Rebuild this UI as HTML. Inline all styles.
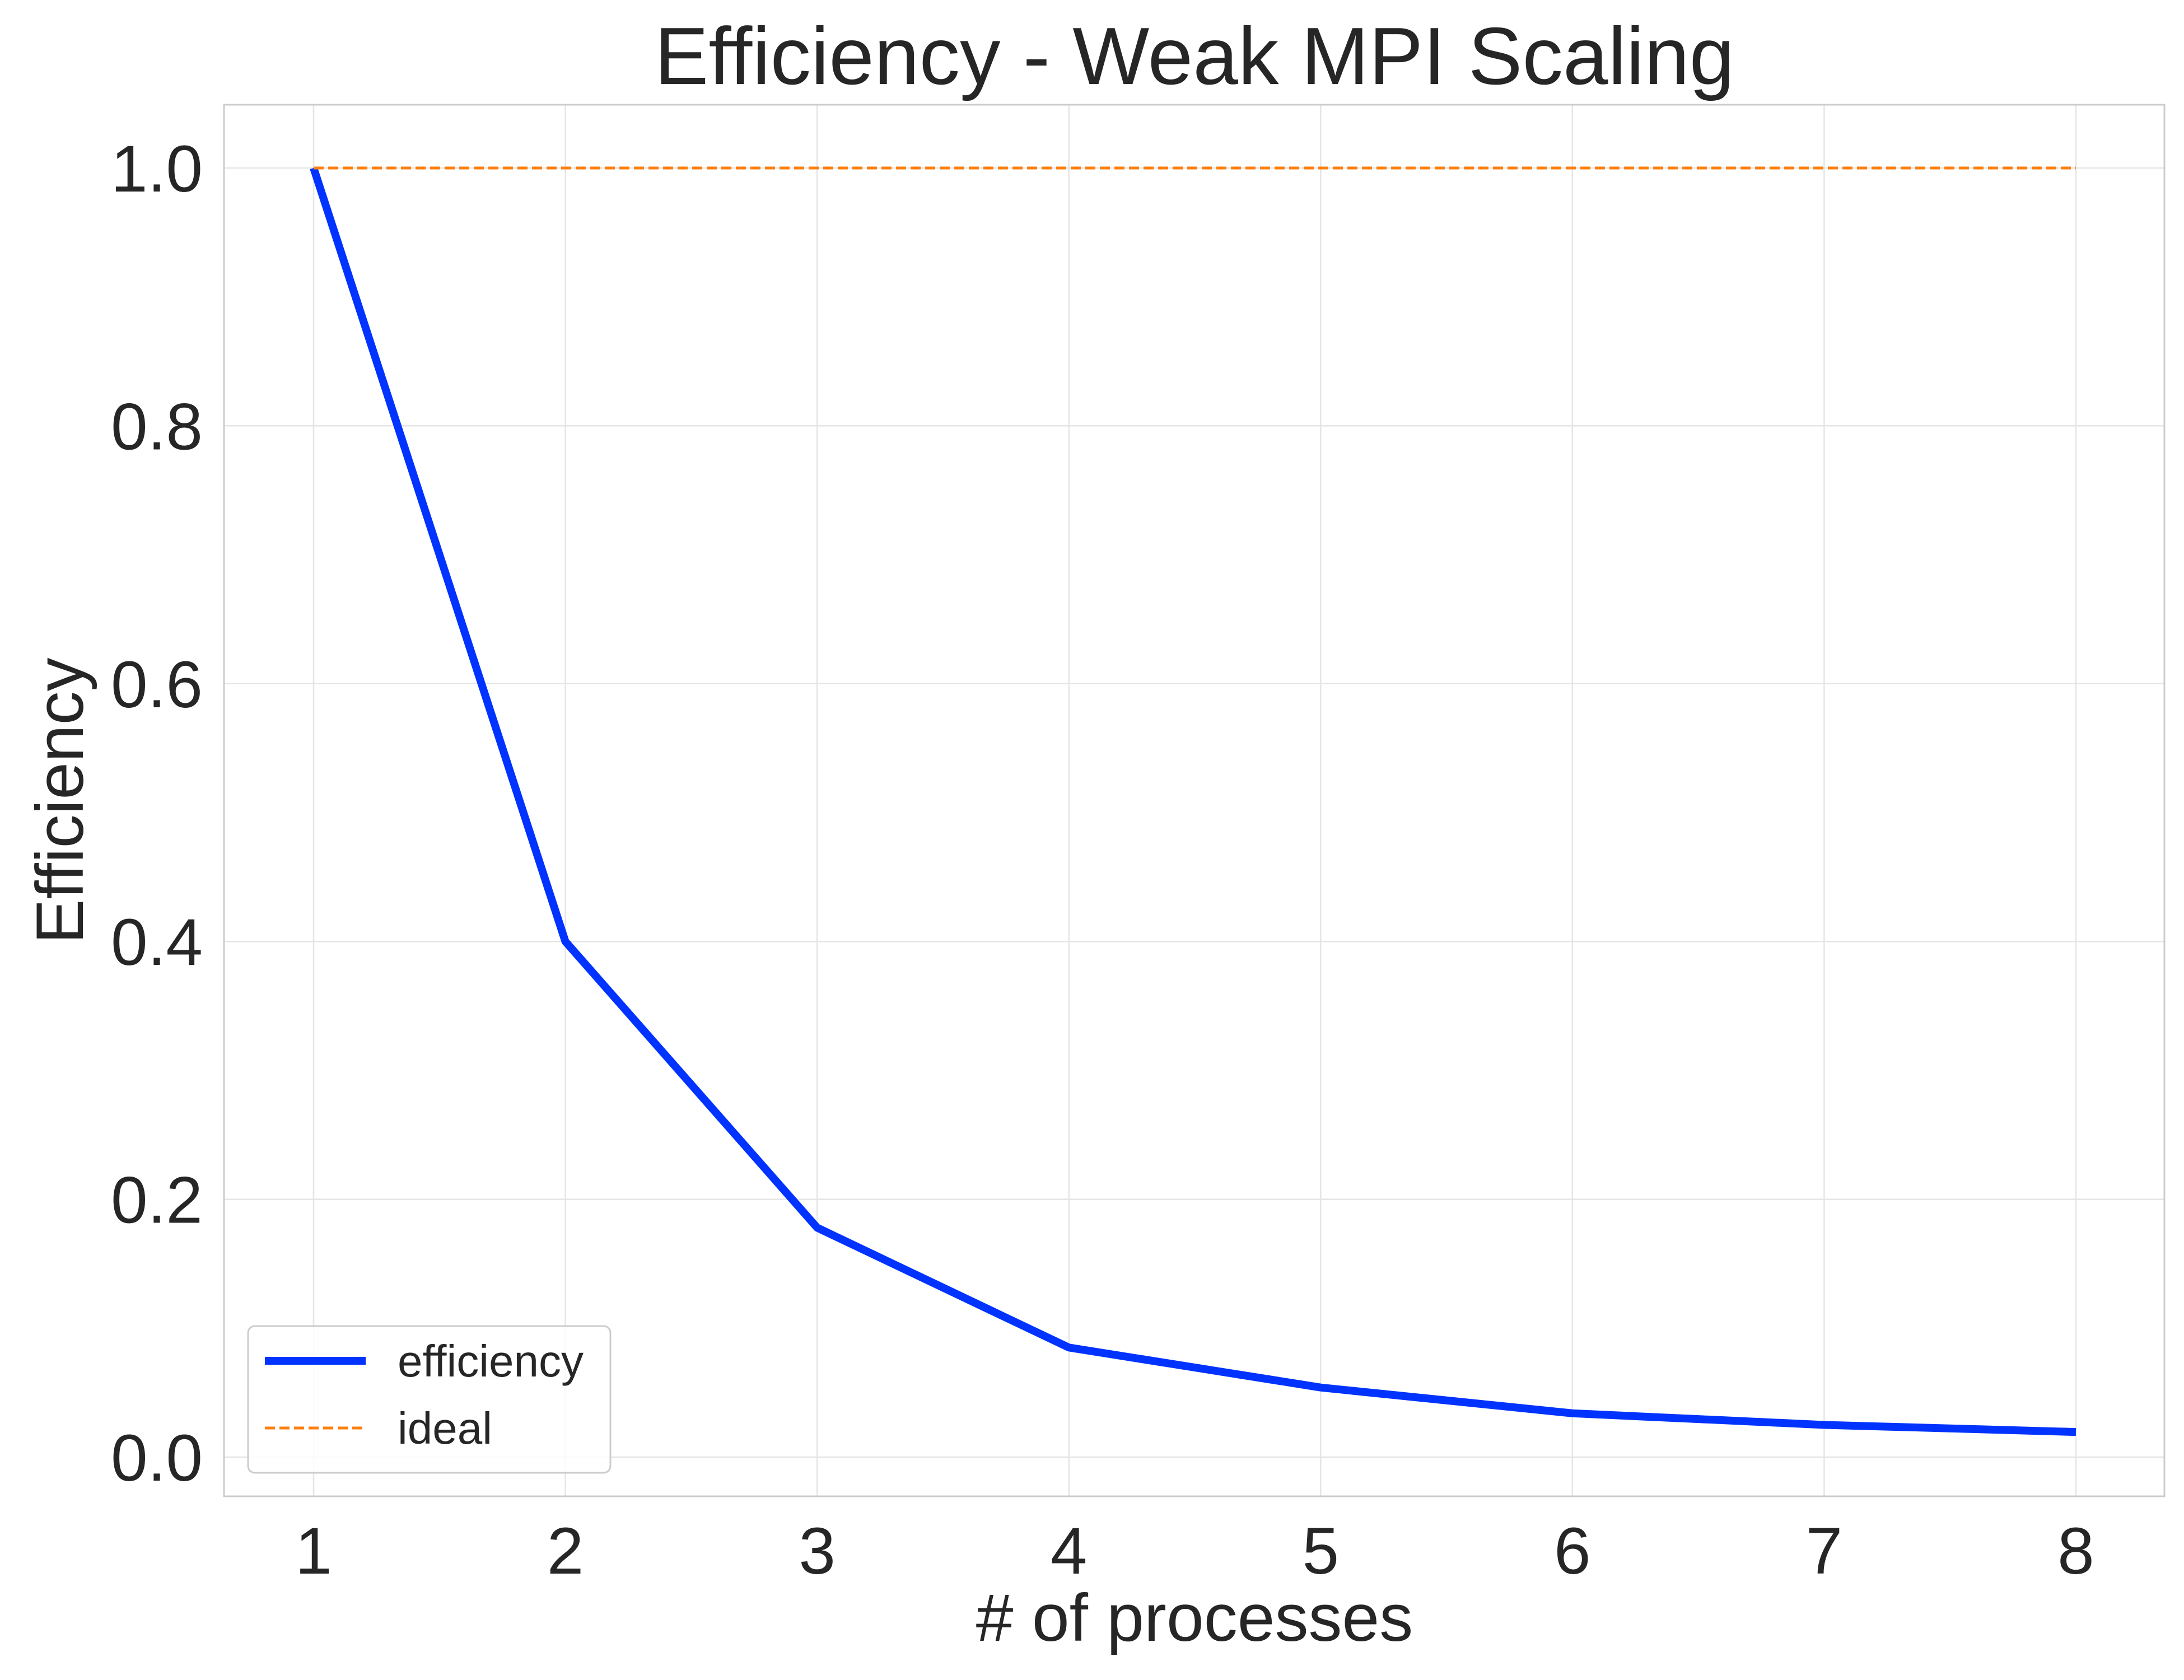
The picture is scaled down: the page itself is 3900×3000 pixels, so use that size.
<!DOCTYPE html>
<html><head><meta charset="utf-8"><style>
html,body{margin:0;padding:0;background:#fff;}
svg{display:block;font-family:"Liberation Sans",Arial,sans-serif;}
</style></head><body>
<svg id="chart" width="3900" height="3000" viewBox="0 0 3900 3000">
<rect x="0" y="0" width="3900" height="3000" fill="#fff"/>
<g id="grid"></g>
<g id="ticks"></g>
<g id="series"></g>
<rect x="400" y="187" width="3465" height="2485" fill="none" stroke="#cccccc" stroke-width="3"/>
<text x="2133" y="150" font-size="145" fill="#262626" text-anchor="middle">Efficiency - Weak MPI Scaling</text>
<text x="2133" y="2930" font-size="120" fill="#262626" text-anchor="middle"># of processes</text>
<text transform="translate(148,1430) rotate(-90)" font-size="120" fill="#262626" text-anchor="middle">Efficiency</text>
<g>
<rect x="443" y="2368" width="647" height="262" rx="12" fill="#fff" fill-opacity="0.8" stroke="#cccccc" stroke-width="3"/>
<line x1="473" y1="2430" x2="653" y2="2430" stroke="#0033ff" stroke-width="14"/>
<text x="710" y="2458" font-size="80" fill="#262626">efficiency</text>
<line x1="473" y1="2550" x2="653" y2="2550" stroke="#ff7f0e" stroke-width="5" stroke-dasharray="18,8"/>
<text x="710" y="2578" font-size="80" fill="#262626">ideal</text>
</g>
</svg>
<script>
const processes = [1, 2, 3, 4, 5, 6, 7, 8];
const efficiency = [1.0, 0.40, 0.178, 0.085, 0.054, 0.034, 0.025, 0.0195];
const ideal = [1, 1, 1, 1, 1, 1, 1, 1];
const yTicks = [0.0, 0.2, 0.4, 0.6, 0.8, 1.0];
const yTickLabels = ["0.0", "0.2", "0.4", "0.6", "0.8", "1.0"];

const NS = "http://www.w3.org/2000/svg";
function xs(v){ return 560 + (v - 1) * (3707 - 560) / 7; }
function ys(v){ return 2602 - v * (2602 - 300); }
function mk(tag, attrs, parent){ const e = document.createElementNS(NS, tag); for (const k in attrs) e.setAttribute(k, attrs[k]); parent.appendChild(e); return e; }
const grid = document.getElementById("grid"), ticks = document.getElementById("ticks"), series = document.getElementById("series");
processes.forEach(p => {
  const g = mk("line", {x1: xs(p), x2: xs(p), y1: 187, y2: 2672, stroke: "#e5e5e5", "stroke-width": 2.5}, grid);
  
  
  const t = mk("text", {x: xs(p), y: 2810, "font-size": 118, fill: "#262626", "text-anchor": "middle"}, ticks);
  t.textContent = String(p);
  
  
});
yTicks.forEach((v, i) => {
  const g = mk("line", {x1: 400, x2: 3865, y1: ys(v), y2: ys(v), stroke: "#e5e5e5", "stroke-width": 2.5}, grid);
  
  
  const t = mk("text", {x: 362, y: ys(v) + 42, "font-size": 118, fill: "#262626", "text-anchor": "end"}, ticks);
  t.textContent = yTickLabels[i];
  
  
});
const effPts = processes.map((p, i) => xs(p) + "," + ys(efficiency[i])).join(" ");
const eff = mk("polyline", {points: effPts, fill: "none", stroke: "#0033ff", "stroke-width": 14, "stroke-linejoin": "round"}, series);


const idPts = processes.map((p, i) => xs(p) + "," + ys(ideal[i])).join(" ");
const idl = mk("polyline", {points: idPts, fill: "none", stroke: "#ff7f0e", "stroke-width": 5, "stroke-dasharray": "18,8"}, series);


</script>
</body></html>
